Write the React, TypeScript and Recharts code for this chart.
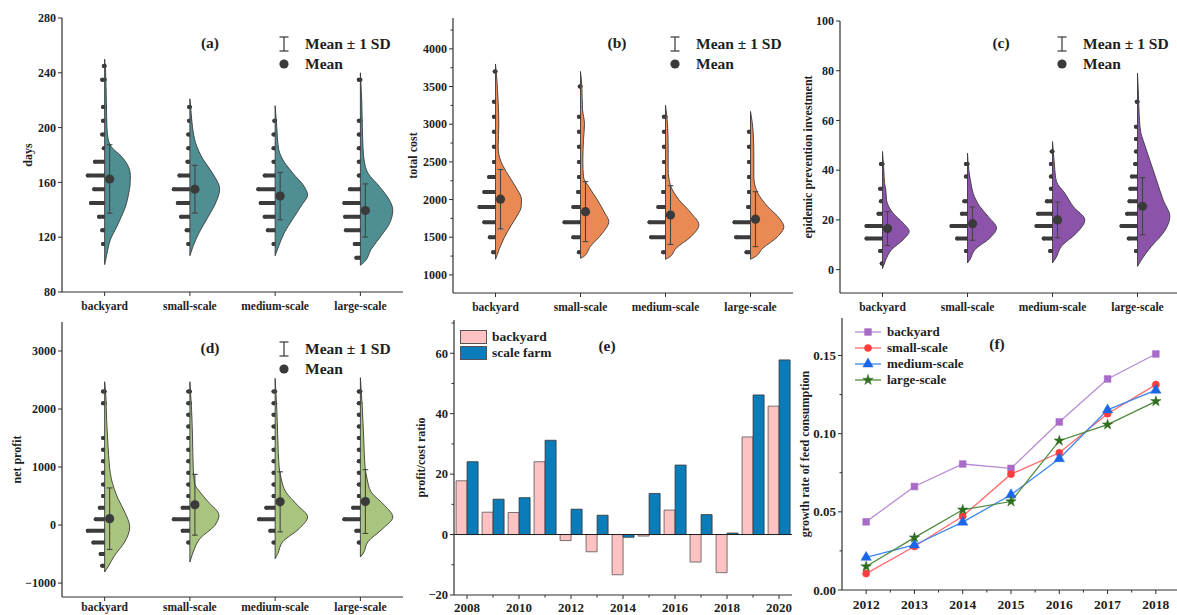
import React from 'react';
import {
  ComposedChart,
  Scatter,
  XAxis,
  YAxis,
  ErrorBar,
  Curve,
  Legend,
  Bar,
  Line,
  ReferenceLine,
  Symbols,
} from 'recharts';

const FONT = '"Liberation Serif", "Times New Roman", Times, serif';
const INK = '#2f2f2f';
const TEXT = '#1e1e1e';
const AXIS = { stroke: INK, strokeWidth: 1.2 };

const GROUPS = ['backyard', 'small-scale', 'medium-scale', 'large-scale'];

// (a) days -- mean, sd, histogram [bin, count], density profile [value, width]
const DAYS_MEAN = [162.5, 155, 150, 139.5];
const DAYS_SD = [25, 17.4, 17.3, 19.4];
const DAYS_HIST = [
  [[245, 1], [235, 3], [215, 2], [205, 2], [195, 3], [185, 1], [175, 12], [165, 21], [155, 13], [145, 17], [135, 7], [125, 3], [115, 2]],
  [[215, 1], [205, 1], [195, 2], [185, 2], [175, 3], [165, 13], [155, 20], [145, 15], [135, 11], [125, 4], [115, 2]],
  [[205, 1], [195, 2], [185, 2], [175, 2], [165, 13], [155, 21], [145, 18], [135, 13], [125, 9], [115, 2]],
  [[235, 2], [205, 2], [195, 2], [185, 2], [175, 2], [165, 2], [155, 13], [145, 20], [135, 19], [125, 18], [115, 7], [105, 5]],
];
const DAYS_DENSITY = [
  [[250, 0], [240, 3], [220, 5], [200, 7], [190, 12], [186, 20], [179, 50], [173, 68], [165, 77], [158, 76], [152, 72], [142, 62], [135, 50], [128, 37], [118, 17], [108, 7], [100, 0]],
  [[221, 0], [210, 4], [200, 8], [189, 17], [177, 39], [167, 67], [155, 89], [145, 77], [135, 55], [123, 27], [113, 9], [106.5, 0]],
  [[216, 0], [200, 5], [185, 10], [177, 22], [167, 52], [157, 87], [151, 97], [142.5, 77], [133, 52], [123, 27], [113, 10], [106.5, 0]],
  [[240, 0], [220, 4], [200, 6], [185, 8], [175, 12], [167, 22], [157, 57], [147, 87], [140, 97], [130, 87], [121, 62], [111, 32], [102, 12], [99.5, 0]],
];

// (b) total cost
const COST_MEAN = [2005, 1840, 1795, 1740];
const COST_SD = [394, 398, 390, 365];
const COST_HIST = [
  [[3700, 1], [3300, 2], [3100, 2], [2900, 2], [2700, 2], [2500, 2], [2300, 8], [2100, 14], [1900, 20], [1700, 14], [1500, 7], [1300, 3]],
  [[3500, 1], [3100, 2], [2900, 2], [2700, 2], [2500, 2], [2300, 2], [2100, 3], [1900, 9], [1700, 20], [1500, 9], [1300, 2]],
  [[3100, 2], [2900, 2], [2700, 2], [2500, 2], [2300, 2], [2100, 3], [1900, 9], [1700, 20], [1500, 18], [1300, 3]],
  [[2900, 2], [2700, 2], [2500, 2], [2300, 2], [2100, 2], [1900, 3], [1700, 20], [1500, 18], [1300, 5]],
];
const COST_DENSITY = [
  [[3800, 0], [3600, 4], [3300, 8], [3000, 10], [2700, 8], [2600, 10], [2450, 22], [2300, 42], [2150, 63], [2000, 78], [1900, 77], [1800, 67], [1650, 46], [1500, 27], [1350, 12], [1208, 0]],
  [[3700, 0], [3500, 4], [3200, 6], [3000, 12], [2800, 9], [2500, 7], [2300, 9], [2170, 25], [2000, 50], [1820, 73], [1710, 85], [1550, 65], [1380, 30], [1245, 10], [1220, 0]],
  [[3250, 0], [3000, 6], [2700, 8], [2400, 8], [2200, 14], [2000, 40], [1820, 77], [1665, 100], [1510, 77], [1355, 32], [1230, 10], [1208, 0]],
  [[3170, 0], [2900, 8], [2600, 10], [2300, 10], [2085, 22], [1905, 52], [1750, 87], [1640, 100], [1510, 82], [1355, 37], [1230, 10], [1208, 0]],
];

// (c) epidemic prevention investment
const EPI_MEAN = [16.5, 18.5, 20, 25.5];
const EPI_SD = [6.8, 6.7, 7.2, 11.5];
const EPI_HIST = [
  [[42.5, 2], [32.5, 3], [27.5, 2], [22.5, 5], [17.5, 20], [12.5, 20], [7.5, 3], [2.5, 1]],
  [[42.5, 2], [37.5, 2], [27.5, 4], [22.5, 7], [17.5, 20], [12.5, 13], [7.5, 2]],
  [[47.5, 1], [42.5, 2], [37.5, 2], [32.5, 2], [27.5, 7], [22.5, 18], [17.5, 20], [12.5, 11], [7.5, 3]],
  [[67.5, 1], [57.5, 2], [52.5, 2], [47.5, 2], [42.5, 3], [37.5, 7], [32.5, 9], [27.5, 10], [22.5, 13], [17.5, 20], [12.5, 11], [7.5, 2]],
];
const EPI_DENSITY = [
  [[47.5, 0], [40, 4], [35, 6], [32, 10], [28, 12], [22.7, 32], [18.7, 62], [15.4, 80], [12, 62], [8, 27], [4, 10], [0.4, 0]],
  [[46.8, 0], [40, 4], [35, 10], [30.7, 17], [25.4, 37], [21.4, 62], [16.7, 87], [12.7, 67], [8, 22], [4, 7], [2.7, 0]],
  [[51.5, 0], [45, 4], [40, 7], [35.4, 12], [30.7, 37], [25.4, 62], [20, 97], [14.7, 72], [9.4, 27], [4.7, 10], [2.7, 0]],
  [[79, 0], [70, 3], [60, 6], [55, 10], [52, 17], [44, 37], [36, 57], [28, 77], [21.4, 97], [14.7, 77], [9.4, 42], [4, 12], [1.3, 0]],
];

// (d) net profit
const PROFIT_MEAN = [110, 350, 400, 405];
const PROFIT_SD = [530, 524, 518, 550];
const PROFIT_HIST = [
  [[2300, 2], [2100, 2], [1500, 2], [1300, 2], [1100, 2], [900, 2], [700, 2], [500, 2], [300, 6], [100, 11], [-100, 21], [-300, 14], [-500, 5], [-700, 3]],
  [[2300, 2], [2100, 2], [1900, 2], [1700, 2], [1500, 2], [1300, 2], [1100, 2], [900, 2], [700, 2], [500, 2], [300, 9], [100, 20], [-100, 9], [-300, 2]],
  [[2300, 2], [2100, 2], [1900, 2], [1700, 2], [1500, 2], [1300, 2], [1100, 2], [900, 2], [700, 2], [500, 2], [300, 11], [100, 20], [-100, 6], [-300, 2]],
  [[2300, 2], [2100, 2], [1900, 2], [1700, 2], [1500, 2], [1300, 2], [1100, 2], [900, 2], [700, 2], [500, 2], [300, 9], [100, 20], [-100, 5], [-300, 2]],
];
const PROFIT_DENSITY = [
  [[2470, 0], [2200, 4], [1800, 6], [1500, 9], [1200, 12], [800, 20], [456, 40], [226, 60], [-33, 75], [-292, 60], [-522, 30], [-723, 10], [-810, 0]],
  [[2470, 0], [2000, 5], [1500, 8], [1000, 10], [700, 15], [571, 30], [399, 55], [168, 87], [-4, 75], [-234, 30], [-464, 10], [-637, 0]],
  [[2528, 0], [2000, 5], [1500, 8], [1000, 12], [800, 18], [571, 32], [341, 67], [140, 97], [-62, 72], [-292, 22], [-493, 8], [-580, 0]],
  [[2540, 0], [2000, 6], [1500, 10], [1000, 14], [800, 20], [571, 32], [341, 72], [140, 97], [-62, 67], [-292, 22], [-493, 8], [-550, 0]],
];

// (e) profit/cost ratio
const RATIO_YEARS = [2008, 2009, 2010, 2011, 2012, 2013, 2014, 2015, 2016, 2017, 2018, 2019, 2020];
const RATIO_BACKYARD = [17.8, 7.4, 7.3, 24.1, -2, -5.7, -13.3, -0.5, 8.1, -9.1, -12.6, 32.3, 42.5];
const RATIO_SCALE = [24.1, 11.7, 12.2, 31.2, 8.4, 6.4, -0.9, 13.6, 23, 6.6, 0.5, 46.2, 57.8];

// (f) growth rate of feed consumption
const GROWTH_YEARS = [2012, 2013, 2014, 2015, 2016, 2017, 2018];
const GROWTH_BACKYARD = [0.0436, 0.0662, 0.0806, 0.0778, 0.1075, 0.135, 0.151];
const GROWTH_SMALL = [0.0105, 0.0278, 0.0472, 0.0741, 0.0878, 0.1128, 0.1314];
const GROWTH_MEDIUM = [0.0209, 0.0288, 0.0434, 0.0609, 0.084, 0.1152, 0.1278];
const GROWTH_LARGE = [0.015, 0.0335, 0.0513, 0.0566, 0.0955, 0.1058, 0.1207];

const YW = 55;
const PT = 12; // room above the plot so top tick labels are not clipped
const PR = 5;
const XH = 30;

const VIOLIN_UNIT = 1 / 255; // density reading -> category units
const COUNT_UNIT = 0.8 / 85; // one count -> category units
const MEAN_SHIFT = 5 / 85;

const signed = (v: number) => (v < 0 ? '\u2212' + Math.abs(v) : String(v));

function AxisTick(props: any) {
  const { x, y, payload, side, isMajor, fmt, size, half, lastValue, gap = 14 } = props;
  const v = payload.value;
  const major = isMajor ? isMajor(v) : true;
  const len = major ? 4 : 2.5;
  const style = { fontFamily: FONT, fontWeight: 700, fontSize: size, fill: TEXT };
  const label = fmt ? fmt(v) : String(v);
  if (side === 'left') {
    return (
      <g>
        <line x1={x} x2={x - len} y1={y} y2={y} stroke={INK} strokeWidth={1} />
        {major && (
          <text x={x - 6} y={y} dy="0.35em" textAnchor="end" style={style}>
            {label}
          </text>
        )}
      </g>
    );
  }
  return (
    <g>
      <line x1={x} x2={x} y1={y} y2={y + len} stroke={INK} strokeWidth={1} />
      {half && v !== lastValue ? <line x1={x + half} x2={x + half} y1={y} y2={y + 2.5} stroke={INK} strokeWidth={1} /> : null}
      {major && (
        <text x={x} y={y + gap} dy="0.35em" textAnchor="middle" style={style}>
          {label}
        </text>
      )}
    </g>
  );
}

function AxisTitle(props: any) {
  const { caption, tx, ty } = props;
  return (
    <text
      x={tx}
      y={ty}
      transform={`rotate(-90 ${tx} ${ty})`}
      textAnchor="middle"
      dominantBaseline="central"
      style={{ fontFamily: FONT, fontWeight: 700, fontSize: 12, fill: TEXT }}
    >
      {caption}
    </text>
  );
}

const emptyShape = () => <g />;
const meanDot = (p: any) => <circle cx={p.cx} cy={p.cy} r={4.6} fill="#3a3a3a" />;
const sdCap = (p: any) => <line x1={p.cx - 2.8} x2={p.cx + 2.8} y1={p.cy} y2={p.cy} stroke="#444" strokeWidth={1.1} />;
const sdLine = (p: any) => <Curve points={p.points || []} type="linear" fill="none" stroke="#444" strokeWidth={1.1} />;

// half violin: right edge through the density points, closed along the centre
const violinOutline = (fill: string) => (p: any) => {
  const pts = p.points || [];
  if (!pts.length) return <g />;
  const first = pts[0];
  const last = pts[pts.length - 1];
  return (
    <g>
      <Curve points={pts} type="monotoneY" fill={fill} stroke="#3a3a3a" strokeWidth={0.9} />
      <line x1={first.x} y1={first.y} x2={last.x} y2={last.y} stroke="#3a3a3a" strokeWidth={0.9} />
    </g>
  );
};

const keyText: React.CSSProperties = {
  position: 'absolute',
  fontFamily: FONT,
  fontWeight: 700,
  color: TEXT,
  whiteSpace: 'nowrap',
  lineHeight: '18px',
};

function ViolinKey({ tag, tagX, keyY, ox, oy }: any) {
  const y1 = keyY - oy;
  const y2 = y1 + 20;
  const sx = ox + 222;
  return (
    <div style={{ position: 'relative', width: '100%', height: '100%' }}>
      <span style={{ ...keyText, fontSize: 15.5, left: ox + tagX, top: y1 - 10, transform: 'translateX(-50%)' }}>{tag}</span>
      <svg style={{ position: 'absolute', left: sx - 6, top: y1 - 8 }} width={12} height={16}>
        <line x1={6} x2={6} y1={1} y2={15} stroke="#444" strokeWidth={1.3} />
        <line x1={1.5} x2={10.5} y1={1} y2={1} stroke="#444" strokeWidth={1.3} />
        <line x1={1.5} x2={10.5} y1={15} y2={15} stroke="#444" strokeWidth={1.3} />
      </svg>
      <span style={{ ...keyText, fontSize: 15.5, left: ox + 243, top: y1 - 9 }}>Mean ± 1 SD</span>
      <svg style={{ position: 'absolute', left: sx - 6, top: y2 - 6 }} width={12} height={12}>
        <circle cx={6} cy={6} r={4.6} fill="#3a3a3a" />
      </svg>
      <span style={{ ...keyText, fontSize: 15.5, left: ox + 243, top: y2 - 9 }}>Mean</span>
    </div>
  );
}

function ViolinPanel(s: any) {
  const cw = YW + s.width + PR;
  const ch = PT + s.height + XH;
  const ox = s.left - YW;
  const oy = s.top - PT;
  const ticks = [...s.majors, ...s.minors].sort((a: number, b: number) => a - b);
  return (
    <div style={{ position: 'absolute', left: ox, top: oy }}>
      <ComposedChart width={cw} height={ch} margin={{ top: PT, right: PR, bottom: 0, left: 0 }}>
        <XAxis
          xAxisId="cat"
          type="number"
          dataKey="x"
          domain={[-0.5, 3.5]}
          ticks={[0, 1, 2, 3]}
          interval={0}
          allowDataOverflow
          height={XH}
          tickSize={0}
          tickMargin={0}
          tickLine={false}
          axisLine={AXIS}
          tick={<AxisTick side="bottom" fmt={(v: number) => GROUPS[v]} size={11.5} gap={s.labelGap} />}
        />
        <XAxis xAxisId="top" orientation="top" type="number" domain={[0, 1]} height={0} tick={false} tickLine={false} axisLine={AXIS} />
        <YAxis
          yAxisId="val"
          type="number"
          dataKey="y"
          domain={s.domain}
          ticks={ticks}
          interval={0}
          allowDataOverflow
          width={YW}
          tickSize={0}
          tickMargin={0}
          tickLine={false}
          axisLine={AXIS}
          tick={<AxisTick side="left" isMajor={(v: number) => s.majors.includes(v)} fmt={signed} size={12} />}
          label={<AxisTitle caption={s.title} tx={s.titleX - ox} ty={PT + s.height / 2} />}
        />
        <YAxis yAxisId="right" orientation="right" type="number" domain={[0, 1]} width={0} tick={false} tickLine={false} axisLine={AXIS} />

        {s.density.map((prof: number[][], gi: number) => (
          <Scatter
            key={'v' + gi}
            xAxisId="cat"
            yAxisId="val"
            data={prof.map(([v, d]) => ({ x: gi + d * VIOLIN_UNIT, y: v }))}
            shape={emptyShape}
            line={violinOutline(s.color)}
            isAnimationActive={false}
          />
        ))}

        {s.hist.map((bins: number[][], gi: number) => (
          <Scatter
            key={'h' + gi}
            xAxisId="cat"
            yAxisId="val"
            data={bins.map(([v, n]) => ({ x: gi, y: v, err: [n * COUNT_UNIT, 0] }))}
            shape={emptyShape}
            isAnimationActive={false}
          >
            <ErrorBar dataKey="err" direction="x" width={0} stroke="#3b3b3b" strokeWidth={4} strokeLinecap="round" isAnimationActive={false} />
          </Scatter>
        ))}

        {/* mean ± 1 SD whiskers, drawn above the violins */}
        {s.means.map((m: number, gi: number) => (
          <Scatter
            key={'sd' + gi}
            xAxisId="cat"
            yAxisId="val"
            data={[
              { x: gi + MEAN_SHIFT, y: m + s.sds[gi] },
              { x: gi + MEAN_SHIFT, y: m - s.sds[gi] },
            ]}
            shape={sdCap}
            line={sdLine}
            isAnimationActive={false}
          />
        ))}

        <Scatter
          xAxisId="cat"
          yAxisId="val"
          data={s.means.map((m: number, gi: number) => ({ x: gi + MEAN_SHIFT, y: m }))}
          shape={meanDot}
          isAnimationActive={false}
        />

        <Legend
          layout="horizontal"
          align="center"
          verticalAlign="middle"
          wrapperStyle={{ left: 0, top: 0, width: cw, height: ch, pointerEvents: 'none' }}
          content={() => <ViolinKey tag={s.tag} tagX={s.tagX} keyY={s.keyY} ox={YW} oy={oy} />}
        />
      </ComposedChart>
    </div>
  );
}

const PINK = '#ffc2c2';
const BLUE = '#0b7cba';

function RatioKey({ oy }: any) {
  const rows = [
    { name: 'backyard', fill: PINK, y: 337 },
    { name: 'scale farm', fill: BLUE, y: 353 },
  ];
  return (
    <div style={{ position: 'relative', width: '100%', height: '100%' }}>
      {rows.map((r) => (
        <div key={r.name}>
          <div
            style={{
              position: 'absolute',
              left: YW + 6,
              top: r.y - oy - 7,
              width: 27,
              height: 14,
              boxSizing: 'border-box',
              background: r.fill,
              border: '1px solid #555',
            }}
          />
          <span style={{ ...keyText, fontSize: 13.5, left: YW + 38, top: r.y - oy - 9 }}>{r.name}</span>
        </div>
      ))}
      <span style={{ ...keyText, fontSize: 15.5, left: YW + 153, top: 347 - oy - 10, transform: 'translateX(-50%)' }}>(e)</span>
    </div>
  );
}

function RatioPanel() {
  const left = 454;
  const top = 320;
  const width = 338;
  const height = 275;
  const cw = YW + width + PR;
  const ch = PT + height + XH;
  const ox = left - YW;
  const oy = top - PT;
  const rows = RATIO_YEARS.map((year, i) => ({ year, backyard: RATIO_BACKYARD[i], scale: RATIO_SCALE[i] }));
  const majors = [-20, 0, 20, 40, 60];
  const ticks = [-20, -10, 0, 10, 20, 30, 40, 50, 60, 70];
  return (
    <div style={{ position: 'absolute', left: ox, top: oy }}>
      <ComposedChart width={cw} height={ch} data={rows} margin={{ top: PT, right: PR, bottom: 0, left: 0 }} barGap={0} barCategoryGap="8%">
        <XAxis
          xAxisId="cat"
          dataKey="year"
          type="category"
          interval={0}
          height={XH}
          tickSize={0}
          tickMargin={0}
          tickLine={false}
          axisLine={AXIS}
          tick={<AxisTick side="bottom" isMajor={(v: number) => v % 2 === 0} size={13} gap={12} />}
        />
        <XAxis xAxisId="top" orientation="top" type="number" domain={[0, 1]} height={0} tick={false} tickLine={false} axisLine={AXIS} />
        <YAxis
          yAxisId="val"
          type="number"
          domain={[-20, 71]}
          ticks={ticks}
          interval={0}
          allowDataOverflow
          width={YW}
          tickSize={0}
          tickMargin={0}
          tickLine={false}
          axisLine={AXIS}
          tick={<AxisTick side="left" isMajor={(v: number) => majors.includes(v)} fmt={signed} size={12.5} />}
          label={<AxisTitle caption="profit/cost ratio" tx={421 - ox} ty={PT + height / 2} />}
        />
        <YAxis yAxisId="right" orientation="right" type="number" domain={[0, 1]} width={0} tick={false} tickLine={false} axisLine={AXIS} />
        <Bar xAxisId="cat" yAxisId="val" dataKey="backyard" name="backyard" fill={PINK} stroke="#555" strokeWidth={0.8} isAnimationActive={false} />
        <Bar xAxisId="cat" yAxisId="val" dataKey="scale" name="scale farm" fill={BLUE} stroke="#333" strokeWidth={0.8} isAnimationActive={false} />
        <ReferenceLine xAxisId="cat" yAxisId="val" y={0} stroke="#222" strokeWidth={1.1} />
        <Legend
          layout="horizontal"
          align="center"
          verticalAlign="middle"
          wrapperStyle={{ left: 0, top: 0, width: cw, height: ch, pointerEvents: 'none' }}
          content={() => <RatioKey oy={oy} />}
        />
      </ComposedChart>
    </div>
  );
}

const GROWTH_SERIES = [
  { key: 'backyard', name: 'backyard', color: '#a86bc8', line: '#b98bd3', symbol: 'square', size: 46, values: GROWTH_BACKYARD },
  { key: 'small', name: 'small-scale', color: '#ff3d3d', line: '#ff6b6b', symbol: 'circle', size: 40, values: GROWTH_SMALL },
  { key: 'medium', name: 'medium-scale', color: '#1a66e6', line: '#3d86ee', symbol: 'triangle', size: 46, values: GROWTH_MEDIUM },
  { key: 'large', name: 'large-scale', color: '#2e6e1e', line: '#4f8a3c', symbol: 'star', size: 34, values: GROWTH_LARGE },
];

const marker = (type: any, size: number, color: string) => (p: any) => (
  <Symbols key={'m' + p.index} cx={p.cx} cy={p.cy} type={type} size={size} fill={color} stroke={color} strokeWidth={0.5} />
);

function GrowthKey({ oy, ox }: any) {
  const rowY = [332, 348, 364, 380];
  return (
    <div style={{ position: 'relative', width: '100%', height: '100%' }}>
      {GROWTH_SERIES.map((s, i) => (
        <div key={s.key}>
          <svg style={{ position: 'absolute', left: 855 - ox, top: rowY[i] - oy - 7 }} width={26} height={14}>
            <line x1={0} x2={26} y1={7} y2={7} stroke={s.line} strokeWidth={1.3} />
            <Symbols cx={13} cy={7} type={s.symbol as any} size={s.size} fill={s.color} stroke={s.color} strokeWidth={0.5} />
          </svg>
          <span style={{ ...keyText, fontSize: 13, left: 887 - ox, top: rowY[i] - oy - 9 }}>{s.name}</span>
        </div>
      ))}
      <span style={{ ...keyText, fontSize: 15.5, left: 997 - ox, top: 345 - oy - 10, transform: 'translateX(-50%)' }}>(f)</span>
    </div>
  );
}

function GrowthPanel() {
  const left = 842;
  const top = 318;
  const width = 338;
  const height = 272;
  const cw = YW + width + PR;
  const ch = PT + height + XH;
  const ox = left - YW;
  const oy = top - PT;
  const rows = GROWTH_YEARS.map((year, i) => {
    const r: any = { year };
    GROWTH_SERIES.forEach((s) => {
      r[s.key] = s.values[i];
    });
    return r;
  });
  const majors = [0, 0.05, 0.1, 0.15];
  const ticks = [0, 0.025, 0.05, 0.075, 0.1, 0.125, 0.15];
  return (
    <div style={{ position: 'absolute', left: ox, top: oy }}>
      <ComposedChart width={cw} height={ch} data={rows} margin={{ top: PT, right: PR, bottom: 0, left: 0 }}>
        <XAxis
          xAxisId="cat"
          dataKey="year"
          type="category"
          scale="band"
          interval={0}
          height={XH}
          tickSize={0}
          tickMargin={0}
          tickLine={false}
          axisLine={AXIS}
          tick={<AxisTick side="bottom" size={13.5} half={width / 14} lastValue={2018} />}
        />
        <XAxis xAxisId="top" orientation="top" type="number" domain={[0, 1]} height={0} tick={false} tickLine={false} axisLine={AXIS} />
        <YAxis
          yAxisId="val"
          type="number"
          domain={[0, 0.174]}
          ticks={ticks}
          interval={0}
          allowDataOverflow
          width={YW}
          tickSize={0}
          tickMargin={0}
          tickLine={false}
          axisLine={AXIS}
          tick={<AxisTick side="left" isMajor={(v: number) => majors.includes(v)} fmt={(v: number) => v.toFixed(2)} size={13} />}
          label={<AxisTitle caption="growth rate of feed consumption" tx={805 - ox} ty={PT + height / 2} />}
        />
        <YAxis yAxisId="right" orientation="right" type="number" domain={[0, 1]} width={0} tick={false} tickLine={false} axisLine={AXIS} />
        {GROWTH_SERIES.map((s) => (
          <Line
            key={s.key}
            xAxisId="cat"
            yAxisId="val"
            type="linear"
            dataKey={s.key}
            name={s.name}
            stroke={s.line}
            strokeWidth={1.3}
            dot={marker(s.symbol, s.size, s.color)}
            isAnimationActive={false}
          />
        ))}
        <Legend
          layout="horizontal"
          align="center"
          verticalAlign="middle"
          wrapperStyle={{ left: 0, top: 0, width: cw, height: ch, pointerEvents: 'none' }}
          content={() => <GrowthKey oy={oy} ox={ox} />}
        />
      </ComposedChart>
    </div>
  );
}

export default function App() {
  return (
    <div
      style={{
        position: 'absolute',
        left: 0,
        top: 0,
        width: 1177,
        height: 615,
        overflow: 'hidden',
        background: '#fff',
      }}
    >
      <ViolinPanel
        left={62} top={18} width={341} height={274}
        domain={[80, 280]} majors={[80, 120, 160, 200, 240, 280]} minors={[]}
        color="#4f8e92" tag="(a)" tagX={148} keyY={44} labelGap={14}
        title="days" titleX={28}
        means={DAYS_MEAN} sds={DAYS_SD} hist={DAYS_HIST} density={DAYS_DENSITY}
      />
      <ViolinPanel
        left={453} top={18} width={340} height={275}
        domain={[760, 4410]} majors={[1000, 1500, 2000, 2500, 3000, 3500, 4000]} minors={[1250, 1750, 2250, 2750, 3250, 3750, 4250]}
        color="#e98a55" tag="(b)" tagX={164} keyY={44} labelGap={14}
        title="total cost" titleX={413}
        means={COST_MEAN} sds={COST_SD} hist={COST_HIST} density={COST_DENSITY}
      />
      <ViolinPanel
        left={840} top={21} width={340} height={272}
        domain={[-9.4, 100]} majors={[0, 20, 40, 60, 80, 100]} minors={[]}
        color="#8c53ab" tag="(c)" tagX={161} keyY={44} labelGap={14}
        title="epidemic prevention investment" titleX={808}
        means={EPI_MEAN} sds={EPI_SD} hist={EPI_HIST} density={EPI_DENSITY}
      />
      <ViolinPanel
        left={62} top={322} width={341} height={275}
        domain={[-1240, 3500]} majors={[-1000, 0, 1000, 2000, 3000]} minors={[]}
        color="#a9c47e" tag="(d)" tagX={148} keyY={349} labelGap={10}
        title="net profit" titleX={17}
        means={PROFIT_MEAN} sds={PROFIT_SD} hist={PROFIT_HIST} density={PROFIT_DENSITY}
      />
      <RatioPanel />
      <GrowthPanel />
    </div>
  );
}
